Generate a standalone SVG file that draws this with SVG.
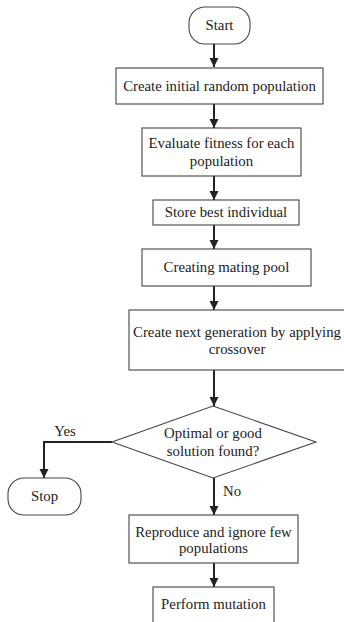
<svg xmlns="http://www.w3.org/2000/svg" width="344" height="622" viewBox="0 0 344 622">
<defs>
<marker id="ah" viewBox="0 0 10 10" refX="10" refY="5" markerWidth="4.6" markerHeight="4.6" orient="auto" markerUnits="strokeWidth">
<path d="M0,0 L10,5 L0,10 z" fill="#222"/>
</marker>
<style>
.box{fill:#fff;stroke:#444;stroke-width:1.1}
.t{font-family:"Liberation Serif","Times New Roman","DejaVu Serif",serif;font-size:14.8px;fill:#222;text-anchor:middle}
.c{fill:none;stroke:#222;stroke-width:2}
</style>
</defs>
<rect width="344" height="622" fill="#fff"/>
<g id="connectors">
<line class="c" x1="214" y1="44" x2="214" y2="67" marker-end="url(#ah)"/>
<line class="c" x1="214" y1="104" x2="214" y2="128" marker-end="url(#ah)"/>
<line class="c" x1="214" y1="176" x2="214" y2="200" marker-end="url(#ah)"/>
<line class="c" x1="214" y1="225" x2="214" y2="249" marker-end="url(#ah)"/>
<line class="c" x1="214" y1="286" x2="214" y2="310" marker-end="url(#ah)"/>
<line class="c" x1="214" y1="370" x2="214" y2="406" marker-end="url(#ah)"/>
<polyline class="c" points="112,442 44,442 44,478" marker-end="url(#ah)"/>
<line class="c" x1="214" y1="478" x2="214" y2="515" marker-end="url(#ah)"/>
<line class="c" x1="214" y1="563" x2="214" y2="587" marker-end="url(#ah)"/>
<text class="t" x="65" y="436">Yes</text>
<text class="t" x="232" y="496">No</text>
</g>
<g id="start">
<rect class="box" x="189" y="7" width="61" height="37" rx="16"/>
<text class="t" x="219.5" y="30">Start</text>
</g>
<g id="create-initial">
<rect class="box" x="116" y="68" width="207" height="36"/>
<text class="t" x="219.5" y="91">Create initial random population</text>
</g>
<g id="evaluate">
<rect class="box" x="142" y="128" width="159" height="48"/>
<text class="t" x="221.5" y="148">Evaluate fitness for each</text>
<text class="t" x="221.5" y="166">population</text>
</g>
<g id="store">
<rect class="box" x="153" y="200" width="146" height="25"/>
<text class="t" x="226" y="217">Store best individual</text>
</g>
<g id="mating">
<rect class="box" x="142" y="249" width="169" height="37"/>
<text class="t" x="226.5" y="272">Creating mating pool</text>
</g>
<g id="next-gen">
<rect class="box" x="129" y="310" width="216" height="60"/>
<text class="t" x="237" y="337">Create next generation by applying</text>
<text class="t" x="237" y="354">crossover</text>
</g>
<g id="decision">
<polygon class="box" points="213,406 316,442 213,478 112,442"/>
<text class="t" x="213" y="438">Optimal or good</text>
<text class="t" x="213" y="456">solution found?</text>
</g>
<g id="stop">
<rect class="box" x="8" y="478" width="73" height="37" rx="16"/>
<text class="t" x="44.5" y="501">Stop</text>
</g>
<g id="reproduce">
<rect class="box" x="129" y="515" width="169" height="48"/>
<text class="t" x="213.5" y="537">Reproduce and ignore few</text>
<text class="t" x="213.5" y="553">populations</text>
</g>
<g id="mutation">
<rect class="box" x="153" y="587" width="121" height="45"/>
<text class="t" x="213.5" y="609">Perform mutation</text>
</g>
</svg>
